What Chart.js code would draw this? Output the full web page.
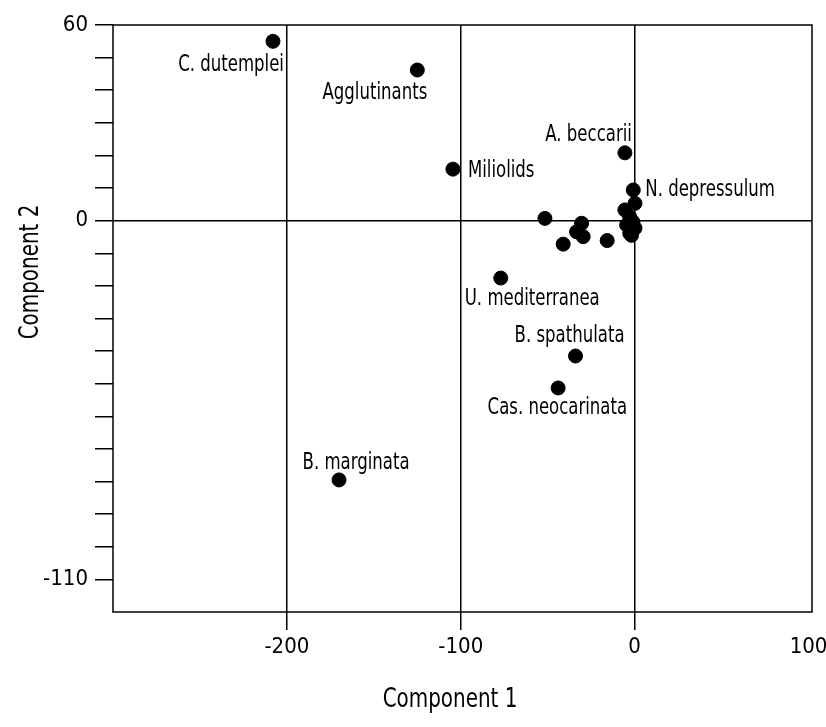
<!DOCTYPE html>
<html>
<head>
<meta charset="utf-8">
<script src="https://cdn.jsdelivr.net/npm/chart.js@4"></script>
<style>
  html, body { margin: 0; padding: 0; background: #fff; }
  #wrap { width: 826px; height: 727px; }
</style>
</head>
<body>
<div id="wrap"><canvas id="pca"></canvas></div>
<script>
// taxa names ('' = unlabelled point)
const taxa = [
  "C. dutemplei", "Agglutinants", "Miliolids", "A. beccarii", "N. depressulum",
  "U. mediterranea", "B. spathulata", "Cas. neocarinata", "B. marginata",
  "", "", "", "", "", "", "", "", "", "", "", "", "", ""
];
const comp1 = [
  -208, -125, -104.5, -5.6, -0.8,
  -77, -34, -44, -170,
  -51.6, -30.5, -33.4, -29.6, -41.1, -15.8, 0.2, -5.6, -2.8, -1, -4.6, 0.2, -2.8, -1.8
];
const comp2 = [
  55, 46.2, 15.8, 20.8, 9.4,
  -17.6, -41.5, -51.3, -79.5,
  0.7, -0.8, -3.4, -4.9, -7.2, -6.1, 5.3, 3.3, 1.1, -0.4, -1.3, -2.3, -3.9, -4.5
];
const xTicks = [-200, -100, 0, 100];
const yLabels = [60, 0, -110];

const FONT = "'DejaVu Sans Condensed', 'Liberation Sans Narrow', sans-serif";

// where each name sits relative to its dot
const labelPos = {
  "C. dutemplei": { dx: 11, dy: 24, align: "right" },
  "Agglutinants": { dx: 10, dy: 23, align: "right" },
  "Miliolids": { dx: 15, dy: 2, align: "left" },
  "A. beccarii": { dx: 7, dy: -18, align: "right" },
  "N. depressulum": { dx: 12, dy: 0, align: "left" },
  "U. mediterranea": { dx: -36, dy: 21, align: "left" },
  "B. spathulata": { dx: 49, dy: -20, align: "right" },
  "Cas. neocarinata": { dx: 69, dy: 20, align: "right" },
  "B. marginata": { dx: 17, dy: -17, align: "center" }
};

const points = comp1.map((x, i) => ({ x: x, y: comp2[i] }));

// the original lettering is a tall condensed face, so squeeze it a bit
function narrowText(ctx, text, x, y, align, size, sx, angle) {
  ctx.save();
  ctx.translate(x, y);
  if (angle) ctx.rotate(angle);
  ctx.scale(sx, 1);
  ctx.font = size + "px " + FONT;
  ctx.textAlign = align;
  ctx.textBaseline = "middle";
  ctx.fillStyle = "#000";
  ctx.fillText(text, 0, 0);
  ctx.restore();
}

const frameAndText = {
  id: "frameAndText",
  afterDatasetsDraw(chart) {
    const { ctx, chartArea } = chart;
    ctx.save();
    ctx.strokeStyle = "#000";
    ctx.lineWidth = 1.5;
    ctx.strokeRect(chartArea.left, chartArea.top, chartArea.right - chartArea.left, chartArea.bottom - chartArea.top);
    ctx.restore();

    const meta = chart.getDatasetMeta(0);
    meta.data.forEach((el, i) => {
      const name = taxa[i];
      if (!name) return;
      const p = labelPos[name];
      narrowText(ctx, name, el.x + p.dx, el.y + p.dy, p.align, 23, 0.8);
    });

    narrowText(ctx, "Component 1", 450, 700, "center", 27, 0.82);
    narrowText(ctx, "Component 2", 31, 272, "center", 27, 0.82, -Math.PI / 2);
  }
};

new Chart(document.getElementById("pca"), {
  type: "scatter",
  data: {
    datasets: [{
      data: points,
      backgroundColor: "#000",
      borderColor: "#000",
      pointRadius: 7,
      pointHoverRadius: 7
    }]
  },
  options: {
    responsive: true,
    maintainAspectRatio: false,
    animation: false,
    layout: { padding: { top: 25, right: 14, bottom: 0, left: 0 } },
    plugins: { legend: { display: false }, tooltip: { enabled: false } },
    scales: {
      x: {
        type: "linear",
        min: -300,
        max: 102,
        afterBuildTicks: (scale) => { scale.ticks = xTicks.map(v => ({ value: v })); },
        afterFit: (scale) => { scale.height = 115; scale.paddingLeft = 0; scale.paddingRight = 0; },
        ticks: {
          color: "#000",
          font: { family: FONT, size: 22 },
          padding: 4,
          maxRotation: 0,
          autoSkip: false,
          callback: (v) => String(v)
        },
        grid: {
          color: (c) => (c.tick && c.tick.value > -300 && c.tick.value < 100) ? "#000" : "rgba(0,0,0,0)",
          tickColor: (c) => (c.tick && c.tick.value < 100) ? "#000" : "rgba(0,0,0,0)",
          lineWidth: 1.5,
          tickLength: 18
        },
        border: { display: false }
      },
      y: {
        type: "linear",
        min: -120,
        max: 60,
        afterBuildTicks: (scale) => {
          const t = [];
          for (let v = 60; v >= -110; v -= 10) t.push({ value: v });
          scale.ticks = t;
        },
        afterFit: (scale) => { scale.width = 113; },
        ticks: {
          color: "#000",
          font: { family: FONT, size: 22 },
          padding: 7,
          autoSkip: false,
          callback: (v) => yLabels.includes(v) ? String(v) : ""
        },
        grid: {
          color: (c) => (c.tick && c.tick.value === 0) ? "#000" : "rgba(0,0,0,0)",
          tickColor: "#000",
          lineWidth: 1.5,
          tickLength: 18
        },
        border: { display: false }
      }
    }
  },
  plugins: [frameAndText]
});
</script>
</body>
</html>
